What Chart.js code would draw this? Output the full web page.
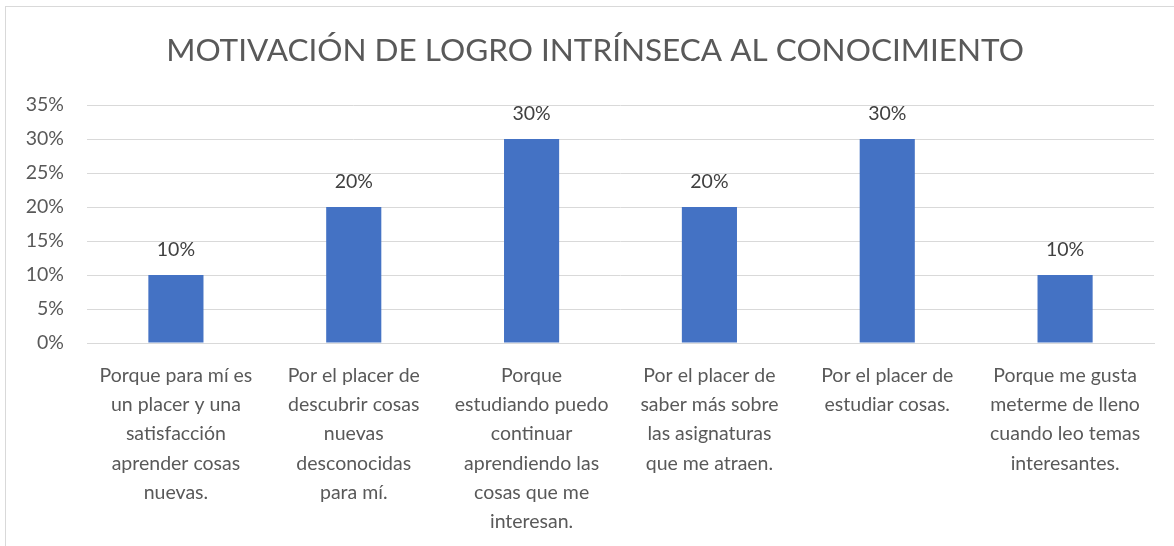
<!DOCTYPE html>
<html>
<head>
<meta charset="utf-8">
<script src="https://cdn.jsdelivr.net/npm/chart.js@4"></script>
<style>
    body { margin: 0; background: #fff; }
    #wrap {
        position: absolute; left: 5px; top: 6px;
        width: 1168px; height: 539px;
        border-left: 1px solid #d9d9d9; border-top: 1px solid #d9d9d9;
    }
</style>
</head>
<body>
<div id="wrap"><canvas id="chart" width="1168" height="539"></canvas></div>
<script>
const titleText = 'MOTIVACIÓN DE LOGRO INTRÍNSECA AL CONOCIMIENTO';
const categories = [
    ['Porque para mí es', 'un placer y una', 'satisfacción', 'aprender cosas', 'nuevas.'],
    ['Por el placer de', 'descubrir cosas', 'nuevas', 'desconocidas', 'para mí.'],
    ['Porque', 'estudiando puedo', 'continuar', 'aprendiendo las', 'cosas que me', 'interesan.'],
    ['Por el placer de', 'saber más sobre', 'las asignaturas', 'que me atraen.'],
    ['Por el placer de', 'estudiar cosas.'],
    ['Porque me gusta', 'meterme de lleno', 'cuando leo temas', 'interesantes.']
];
const values = [10, 20, 30, 20, 30, 10];
const yMax = 35;
const yStep = 5;

const FONT = 'Lato, "Open Sans", sans-serif';
const textColor = '#595959';

// title drawn by hand: it sits a bit right of the canvas centre
const titleDraw = {
    id: 'titleDraw',
    afterDraw(chart) {
        const ctx = chart.ctx;
        ctx.save();
        ctx.font = '31.5px ' + FONT;
        ctx.fillStyle = textColor;
        ctx.textAlign = 'center';
        ctx.textBaseline = 'middle';
        ctx.fillText(titleText, 589, 44);
        ctx.restore();
    }
};

// draws the value above each bar
const valueLabels = {
    id: 'valueLabels',
    afterDatasetsDraw(chart) {
        const ctx = chart.ctx;
        const meta = chart.getDatasetMeta(0);
        ctx.save();
        ctx.font = '19.5px ' + FONT;
        ctx.fillStyle = '#404040';
        ctx.textAlign = 'center';
        ctx.textBaseline = 'middle';
        meta.data.forEach((bar, i) => {
            ctx.fillText(values[i] + '%', bar.x, bar.y - 25);
        });
        ctx.restore();
    }
};

const ctx = document.getElementById('chart').getContext('2d');
new Chart(ctx, {
    type: 'bar',
    data: {
        labels: categories,
        datasets: [{
            data: values,
            backgroundColor: '#4472c4',
            categoryPercentage: 1,
            barPercentage: 0.31
        }]
    },
    options: {
        responsive: false,
        animation: false,
        layout: { padding: { left: 0, right: 20, top: 98, bottom: 11 } },
        plugins: {
            legend: { display: false },
            tooltip: { enabled: false },
            title: { display: false }
        },
        scales: {
            y: {
                min: 0,
                max: yMax,
                border: { display: false },
                grid: { color: '#d9d9d9', drawTicks: false },
                ticks: {
                    stepSize: yStep,
                    padding: 23,
                    color: textColor,
                    font: { family: FONT, size: 19.5 },
                    callback: v => v + '%'
                },
                afterFit(scale) { scale.width = 81; }
            },
            x: {
                border: { color: '#d9d9d9' },
                grid: { display: false },
                ticks: {
                    autoSkip: false,
                    maxRotation: 0,
                    padding: 10,
                    color: textColor,
                    font: { family: FONT, size: 19.5, lineHeight: 1.5 }
                },
                afterFit(scale) { scale.height = 192; }
            }
        }
    },
    plugins: [valueLabels, titleDraw]
});
</script>
</body>
</html>
